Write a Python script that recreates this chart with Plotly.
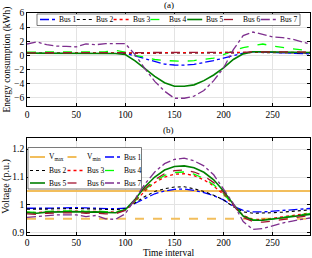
import plotly.graph_objects as go

# ---------------- data ----------------
t = [0, 10, 20, 30, 40, 50, 60, 70, 80, 90, 100, 110, 120, 130, 140, 150,
     160, 170, 180, 190, 200, 210, 220, 230, 240, 250, 260, 270, 280, 288]

bus_names = ["Bus 1", "Bus 2", "Bus 3", "Bus 4", "Bus 5", "Bus 6", "Bus 7"]

# (a) energy consumption (kWh)
e_bus1 = [0.3, 0.3, 0.3, 0.3, 0.3, 0.3, 0.3, 0.3, 0.3, 0.35, 0.3, -0.1, -0.5, -0.95, -1.25, -1.38,
          -1.4, -1.3, -1.05, -0.75, -0.4, -0.05, 0.3, 0.5, 0.5, 0.4, 0.35, 0.3, 0.25, 0.2]
e_bus2 = [0.25, 0.25, 0.25, 0.25, 0.25, 0.25, 0.25, 0.25, 0.25, 0.25, 0.25, 0.25, 0.25, 0.25, 0.25, 0.25,
          0.25, 0.25, 0.25, 0.25, 0.25, 0.3, 0.35, 0.4, 0.4, 0.4, 0.35, 0.35, 0.3, 0.3]
e_bus3 = [0.3, 0.3, 0.3, 0.3, 0.3, 0.3, 0.3, 0.3, 0.3, 0.3, 0.3, 0.3, 0.3, 0.3, 0.3, 0.3,
          0.3, 0.3, 0.3, 0.3, 0.3, 0.35, 0.4, 0.45, 0.45, 0.45, 0.4, 0.4, 0.4, 0.4]
e_bus4 = [0.45, 0.45, 0.4, 0.4, 0.45, 0.4, 0.4, 0.45, 0.5, 0.7, 0.45, 0.0, -0.35, -0.6, -0.75, -0.85,
          -0.85, -0.75, -0.6, -0.4, 0.1, 0.55, 1.1, 1.35, 1.6, 1.3, 1.1, 0.9, 0.75, 0.65]
e_bus5 = [0.3, 0.3, 0.3, 0.3, 0.3, 0.3, 0.3, 0.3, 0.3, 0.25, 0.1, -0.8, -1.9, -3.0, -3.9, -4.4,
          -4.4, -4.2, -3.6, -2.8, -1.8, -0.6, 0.2, 0.5, 0.5, 0.5, 0.45, 0.45, 0.4, 0.4]
e_bus6 = [0.35, 0.35, 0.35, 0.35, 0.35, 0.35, 0.35, 0.35, 0.35, 0.35, 0.35, 0.33, 0.32, 0.32, 0.32, 0.32,
          0.32, 0.32, 0.33, 0.34, 0.36, 0.38, 0.42, 0.5, 0.5, 0.5, 0.48, 0.47, 0.46, 0.45]
e_bus7 = [1.6, 1.9, 1.5, 1.3, 1.25, 1.2, 1.6, 1.5, 1.65, 1.7, 1.65, 0.1, -1.9, -3.7, -5.1, -6.1,
          -6.1, -5.8, -5.0, -3.6, -1.8, 0.8, 2.8, 3.3, 3.0, 2.6, 2.5, 2.3, 1.9, 1.6]

# (b) voltage (p.u.)
v_bus1 = [0.988, 0.987, 0.988, 0.989, 0.99, 0.99, 0.989, 0.988, 0.987, 0.986, 0.988, 1.005, 1.025, 1.04, 1.05, 1.056,
          1.057, 1.052, 1.044, 1.033, 1.018, 0.995, 0.98, 0.975, 0.975, 0.977, 0.979, 0.981, 0.984, 0.987]
v_bus2 = [0.985, 0.984, 0.985, 0.986, 0.987, 0.987, 0.986, 0.985, 0.984, 0.983, 0.986, 1.008, 1.03, 1.048, 1.058, 1.064,
          1.065, 1.058, 1.048, 1.035, 1.018, 0.993, 0.975, 0.97, 0.97, 0.972, 0.974, 0.976, 0.979, 0.982]
v_bus3 = [0.974, 0.972, 0.976, 0.977, 0.977, 0.978, 0.976, 0.977, 0.975, 0.974, 0.982, 1.012, 1.05, 1.08, 1.1, 1.11,
          1.112, 1.105, 1.09, 1.068, 1.037, 1.0, 0.962, 0.948, 0.948, 0.952, 0.957, 0.962, 0.967, 0.971]
v_bus4 = [0.975, 0.973, 0.977, 0.978, 0.978, 0.979, 0.977, 0.978, 0.976, 0.975, 0.983, 1.014, 1.054, 1.085, 1.106, 1.116,
          1.118, 1.11, 1.095, 1.072, 1.04, 1.0, 0.96, 0.946, 0.946, 0.95, 0.955, 0.96, 0.965, 0.969]
v_bus5 = [0.972, 0.97, 0.974, 0.975, 0.975, 0.976, 0.974, 0.975, 0.973, 0.972, 0.982, 1.02, 1.065, 1.1, 1.125, 1.138,
          1.14, 1.133, 1.117, 1.09, 1.05, 1.002, 0.96, 0.945, 0.945, 0.949, 0.954, 0.959, 0.963, 0.966]
v_bus6 = [0.968, 0.966, 0.97, 0.971, 0.971, 0.972, 0.97, 0.971, 0.968, 0.968, 0.98, 1.017, 1.058, 1.09, 1.112, 1.123,
          1.125, 1.118, 1.104, 1.08, 1.044, 1.0, 0.955, 0.94, 0.938, 0.942, 0.948, 0.953, 0.958, 0.962]
v_bus7 = [0.955, 0.958, 0.962, 0.964, 0.964, 0.964, 0.958, 0.962, 0.95, 0.948, 0.968, 1.02, 1.075, 1.118, 1.148, 1.163,
          1.168, 1.158, 1.14, 1.108, 1.058, 1.005, 0.94, 0.912, 0.915, 0.925, 0.935, 0.942, 0.948, 0.953]

v_limit_x = [0, 288]
v_max = [1.05, 1.05]
v_min = [0.95, 0.95]

x_ticks = [0, 50, 100, 150, 200, 250]
e_ticks = [-6, -4, -2, 0, 2, 4, 6]
v_ticks = [0.9, 1.0, 1.1, 1.2]
v_tick_labels = ["0.9", "1", "1.1", "1.2"]

# ---------------- styles ----------------
bus_colors = ["#0000FF", "#000000", "#FF0000", "#00FF00", "#008000", "#A2142F", "#7E2F8E"]
bus_dashes = ["dashdot", "dot", "dot", "dash", "solid", "dash", "dashdot"]
bus_widths = [1.3, 1.1, 1.3, 1.3, 1.6, 1.3, 1.3]
lim_color = "#F2BE5C"
FONT = "Liberation Serif"

energy = [e_bus1, e_bus2, e_bus3, e_bus4, e_bus5, e_bus6, e_bus7]
volts = [v_bus1, v_bus2, v_bus3, v_bus4, v_bus5, v_bus6, v_bus7]

W, H = 312, 258
ML, MR, MT, MB = 27, 2, 13, 23
PW, PH = W - ML - MR, H - MT - MB


def xp(px):
    return (px - ML) / PW


def yp(py):
    return (H - MB - py) / PH


fig = go.Figure()

fig.add_trace(go.Scatter(x=v_limit_x, y=v_max, mode="lines", xaxis="x2", yaxis="y2",
                         line=dict(color=lim_color, width=2), showlegend=False))
fig.add_trace(go.Scatter(x=v_limit_x, y=v_min, mode="lines", xaxis="x2", yaxis="y2",
                         line=dict(color=lim_color, width=2, dash="dash"), showlegend=False))

for i, name in enumerate(bus_names):
    fig.add_trace(go.Scatter(x=t, y=energy[i], mode="lines", name=name, xaxis="x", yaxis="y",
                             line=dict(color=bus_colors[i], width=bus_widths[i], dash=bus_dashes[i]),
                             showlegend=False))
for i, name in enumerate(bus_names):
    fig.add_trace(go.Scatter(x=t, y=volts[i], mode="lines", name=name, xaxis="x2", yaxis="y2",
                             line=dict(color=bus_colors[i], width=bus_widths[i], dash=bus_dashes[i]),
                             showlegend=False))

axis_common = dict(showline=True, linecolor="black", linewidth=0.8, mirror="ticks",
                   ticks="inside", ticklen=3, tickcolor="black", showgrid=True,
                   gridcolor="#E3E3E3", gridwidth=0.8, zeroline=False, automargin=False,
                   tickfont=dict(family=FONT, size=9.5, color="black"))

top_dom = [yp(106), 1.0]
bot_dom = [0.0, yp(138)]

fig.update_layout(
    width=W, height=H,
    margin=dict(l=ML, r=MR, t=MT, b=MB),
    paper_bgcolor="white", plot_bgcolor="white",
    font=dict(family=FONT, size=10, color="black"),
    xaxis=dict(domain=[0, 1], range=[0, 288], tickvals=x_ticks, anchor="y", **axis_common),
    yaxis=dict(domain=top_dom, range=[-7.2, 6], tickvals=e_ticks, anchor="x",
               title=dict(text="Energy consumption (kWh)", font=dict(family=FONT, size=9.5), standoff=1),
               **axis_common),
    xaxis2=dict(domain=[0, 1], range=[0, 288], tickvals=x_ticks, anchor="y2",
                ticklabelstandoff=-1, **axis_common),
    yaxis2=dict(domain=bot_dom, range=[0.892, 1.24], tickvals=v_ticks, ticktext=v_tick_labels,
                anchor="x2",
                title=dict(text="Voltage (p.u.)", font=dict(family=FONT, size=10), standoff=1),
                **axis_common),
)

shapes = []
annotations = []

annotations.append(dict(text="(a)", xref="paper", yref="paper", x=0.5, y=1.0, yshift=1,
                        xanchor="center", yanchor="bottom", showarrow=False,
                        font=dict(family=FONT, size=9)))
annotations.append(dict(text="(b)", xref="paper", yref="paper", x=0.5, y=bot_dom[1], yshift=1,
                        xanchor="center", yanchor="bottom", showarrow=False,
                        font=dict(family=FONT, size=9)))
annotations.append(dict(text="Time interval", xref="paper", yref="paper", x=0.5, y=yp(253),
                        xanchor="center", yanchor="middle", showarrow=False,
                        font=dict(family=FONT, size=9.5)))

# legend (a): one row
shapes.append(dict(type="rect", xref="paper", yref="paper", x0=xp(37), x1=xp(300), y0=yp(25.5), y1=yp(14),
                   line=dict(color="#404040", width=0.7), fillcolor="white", layer="above"))
pitch = 36.8
for i, name in enumerate(bus_names):
    s0 = 40 + i * pitch
    shapes.append(dict(type="line", xref="paper", yref="paper", x0=xp(s0), x1=xp(s0 + 15),
                       y0=yp(19.5), y1=yp(19.5), layer="above",
                       line=dict(color=bus_colors[i], width=bus_widths[i], dash=bus_dashes[i])))
    annotations.append(dict(text=name, xref="paper", yref="paper", x=xp(s0 + 17), y=yp(19.5),
                            xanchor="left", yanchor="middle", showarrow=False,
                            font=dict(family=FONT, size=7.5)))

# legend (b): 3 x 3
leg_names = ["V<sub>max</sub>", "V<sub>min</sub>"] + bus_names
leg_colors = [lim_color, lim_color] + bus_colors
leg_dashes = ["solid", "dash"] + bus_dashes
leg_widths = [2, 2] + bus_widths
col_x = [30, 67.5, 105]
row_y = [157, 170.5, 183]
shapes.append(dict(type="rect", xref="paper", yref="paper", x0=xp(28), x1=xp(141.5), y0=yp(189), y1=yp(147.5),
                   line=dict(color="#404040", width=0.7), fillcolor="white", layer="above"))
for k, name in enumerate(leg_names):
    r, c = divmod(k, 3)
    s0 = col_x[c]
    shapes.append(dict(type="line", xref="paper", yref="paper", x0=xp(s0), x1=xp(s0 + 15),
                       y0=yp(row_y[r]), y1=yp(row_y[r]), layer="above",
                       line=dict(color=leg_colors[k], width=leg_widths[k], dash=leg_dashes[k])))
    annotations.append(dict(text=name, xref="paper", yref="paper", x=xp(s0 + 17), y=yp(row_y[r]),
                            xanchor="left", yanchor="middle", showarrow=False,
                            font=dict(family=FONT, size=7.5)))

fig.update_layout(shapes=shapes, annotations=annotations)

fig.write_html("out.html", config={"displayModeBar": False},
               post_script="document.body.style.margin='0px';")
